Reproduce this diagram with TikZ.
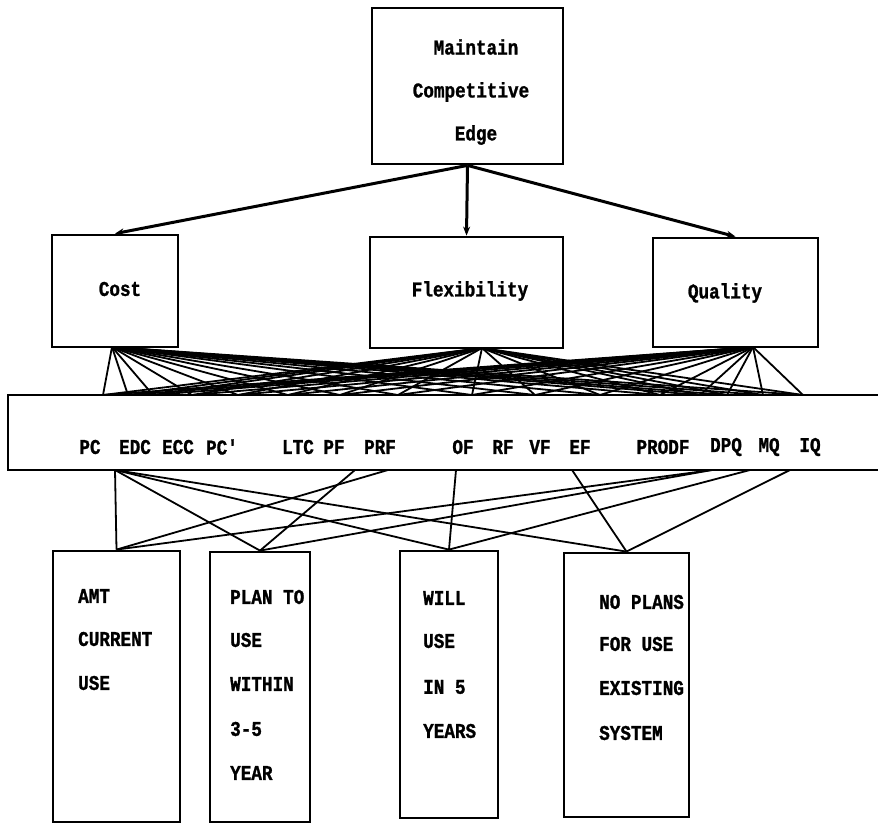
\documentclass[tikz,border=0pt]{standalone}
\usepackage{fontspec}
\newfontfamily\typewr{Liberation Mono}[FakeStretch=0.84, BoldFeatures={FakeBold=1.2}]
\usetikzlibrary{arrows.meta,calc}
\begin{document}
\begin{tikzpicture}[x=1pt,y=-1pt,
  box/.style={draw, line width=2.8pt, inner sep=0pt},
  lbl/.style={font=\typewr\bfseries\fontsize{21}{21}\selectfont, inner sep=0pt},
  leftlbl/.style={lbl, anchor=west},
  link/.style={line width=1.8pt},
  arr/.style={line width=3pt, -{Stealth[length=9pt,width=7pt]}}]
\useasboundingbox (0,0) rectangle (878,824);

% goal
\node[box, minimum width=191pt, minimum height=156pt] (goal) at (467.5,86) {};
\node[lbl] (g1) at (476,47) {Maintain};
\node[lbl] (g2) at (471,92) {Competitive};
\node[lbl] (g3) at (476,135) {Edge};

% criteria
\node[box, minimum width=126pt, minimum height=112pt] (cost) at (115,291) {};
\node[lbl] (costt) at (120,289) {Cost};
\node[box, minimum width=193pt, minimum height=111pt] (flex) at (466.5,292.5) {};
\node[lbl] (flext) at (470,291) {Flexibility};
\node[box, minimum width=165pt, minimum height=109pt] (qual) at (735.5,292.5) {};
\node[lbl] (qualt) at (725,293) {Quality};

\draw[arr] (goal.south) -- (cost.north);
\draw[arr] (goal.south) -- (flex.north);
\draw[arr] (goal.south) -- (qual.north);

% measures bar (runs off the right edge)
\node[box, minimum width=882pt, minimum height=75pt] (bar) at (449,432.5) {};
\node[lbl] (pc) at (90,447) {PC};
\node[lbl] (edc) at (135,447) {EDC};
\node[lbl] (ecc) at (178,447) {ECC};
\node[lbl] (pcp) at (222,447) {PC'};
\node[lbl] (ltc) at (298,447) {LTC};
\node[lbl] (pf) at (334,447) {PF};
\node[lbl] (prf) at (380,447) {PRF};
\node[lbl] (of) at (463,447) {OF};
\node[lbl] (rf) at (503,447) {RF};
\node[lbl] (vf) at (540,447) {VF};
\node[lbl] (ef) at (580,447) {EF};
\node[lbl] (prodf) at (663,447) {PRODF};
\node[lbl] (dpq) at (726,447) {DPQ};
\node[lbl] (mq) at (769,447) {MQ};
\node[lbl] (iq) at (810,447) {IQ};

% feet of the criteria boxes
\coordinate (costfoot) at (112,347);
\coordinate (flexfoot) at (482,348);
\coordinate (qualfoot) at (753,347);

% attachment points on the top of the bar
\foreach \i/\x in {1/103,2/128,3/153,4/192,5/238,6/288,7/340,8/398,9/472,10/535,11/600,12/660,13/700,14/727,15/763,16/803}
  \coordinate (t\i) at (\x,395);

\foreach \f in {costfoot,flexfoot,qualfoot}
  \foreach \i in {1,...,16}
    \draw[link] (\f) -- (t\i);

% usage categories
\node[box, minimum width=127pt, minimum height=271pt] (amt) at (116.5,686.5) {};
\node[leftlbl] (a1) at (78,596) {AMT};
\node[leftlbl] (a2) at (78,639) {CURRENT};
\node[leftlbl] (a3) at (78,683) {USE};

\node[box, minimum width=100pt, minimum height=270pt] (plan) at (260,687) {};
\node[leftlbl] (p1) at (230,597) {PLAN TO};
\node[leftlbl] (p2) at (230,640) {USE};
\node[leftlbl] (p3) at (230,684) {WITHIN};
\node[leftlbl] (p4) at (230,729) {3-5};
\node[leftlbl] (p5) at (230,773) {YEAR};

\node[box, minimum width=98pt, minimum height=267pt] (will) at (449,684.5) {};
\node[leftlbl] (w1) at (423,598) {WILL};
\node[leftlbl] (w2) at (423,641) {USE};
\node[leftlbl] (w3) at (423,687) {IN 5};
\node[leftlbl] (w4) at (423,731) {YEARS};

\node[box, minimum width=125pt, minimum height=264pt] (noplan) at (626.5,685) {};
\node[leftlbl] (n1) at (599,602) {NO PLANS};
\node[leftlbl] (n2) at (599,644) {FOR USE};
\node[leftlbl] (n3) at (599,688) {EXISTING};
\node[leftlbl] (n4) at (599,733) {SYSTEM};

% attachment points on the bottom of the bar
\coordinate (bpc) at (115,470);
\coordinate (bpf) at (355,470);
\coordinate (bprf) at (388,470);
\coordinate (bof) at (456,470);
\coordinate (bef) at (572,470);
\coordinate (bdpq) at (712,470);
\coordinate (bmq) at (750,470);
\coordinate (biq) at (790,470);

\draw[link] (bpc) -- (amt.north);
\draw[link] (bpc) -- (plan.north);
\draw[link] (bpc) -- (will.north);
\draw[link] (bpc) -- (noplan.north);
\draw[link] (bpf) -- (plan.north);
\draw[link] (bprf) -- (amt.north);
\draw[link] (bof) -- (will.north);
\draw[link] (bef) -- (noplan.north);
\draw[link] (bdpq) -- (amt.north);
\draw[link] (bdpq) -- (plan.north);
\draw[link] (bmq) -- (will.north);
\draw[link] (biq) -- (noplan.north);
\end{tikzpicture}
\end{document}
